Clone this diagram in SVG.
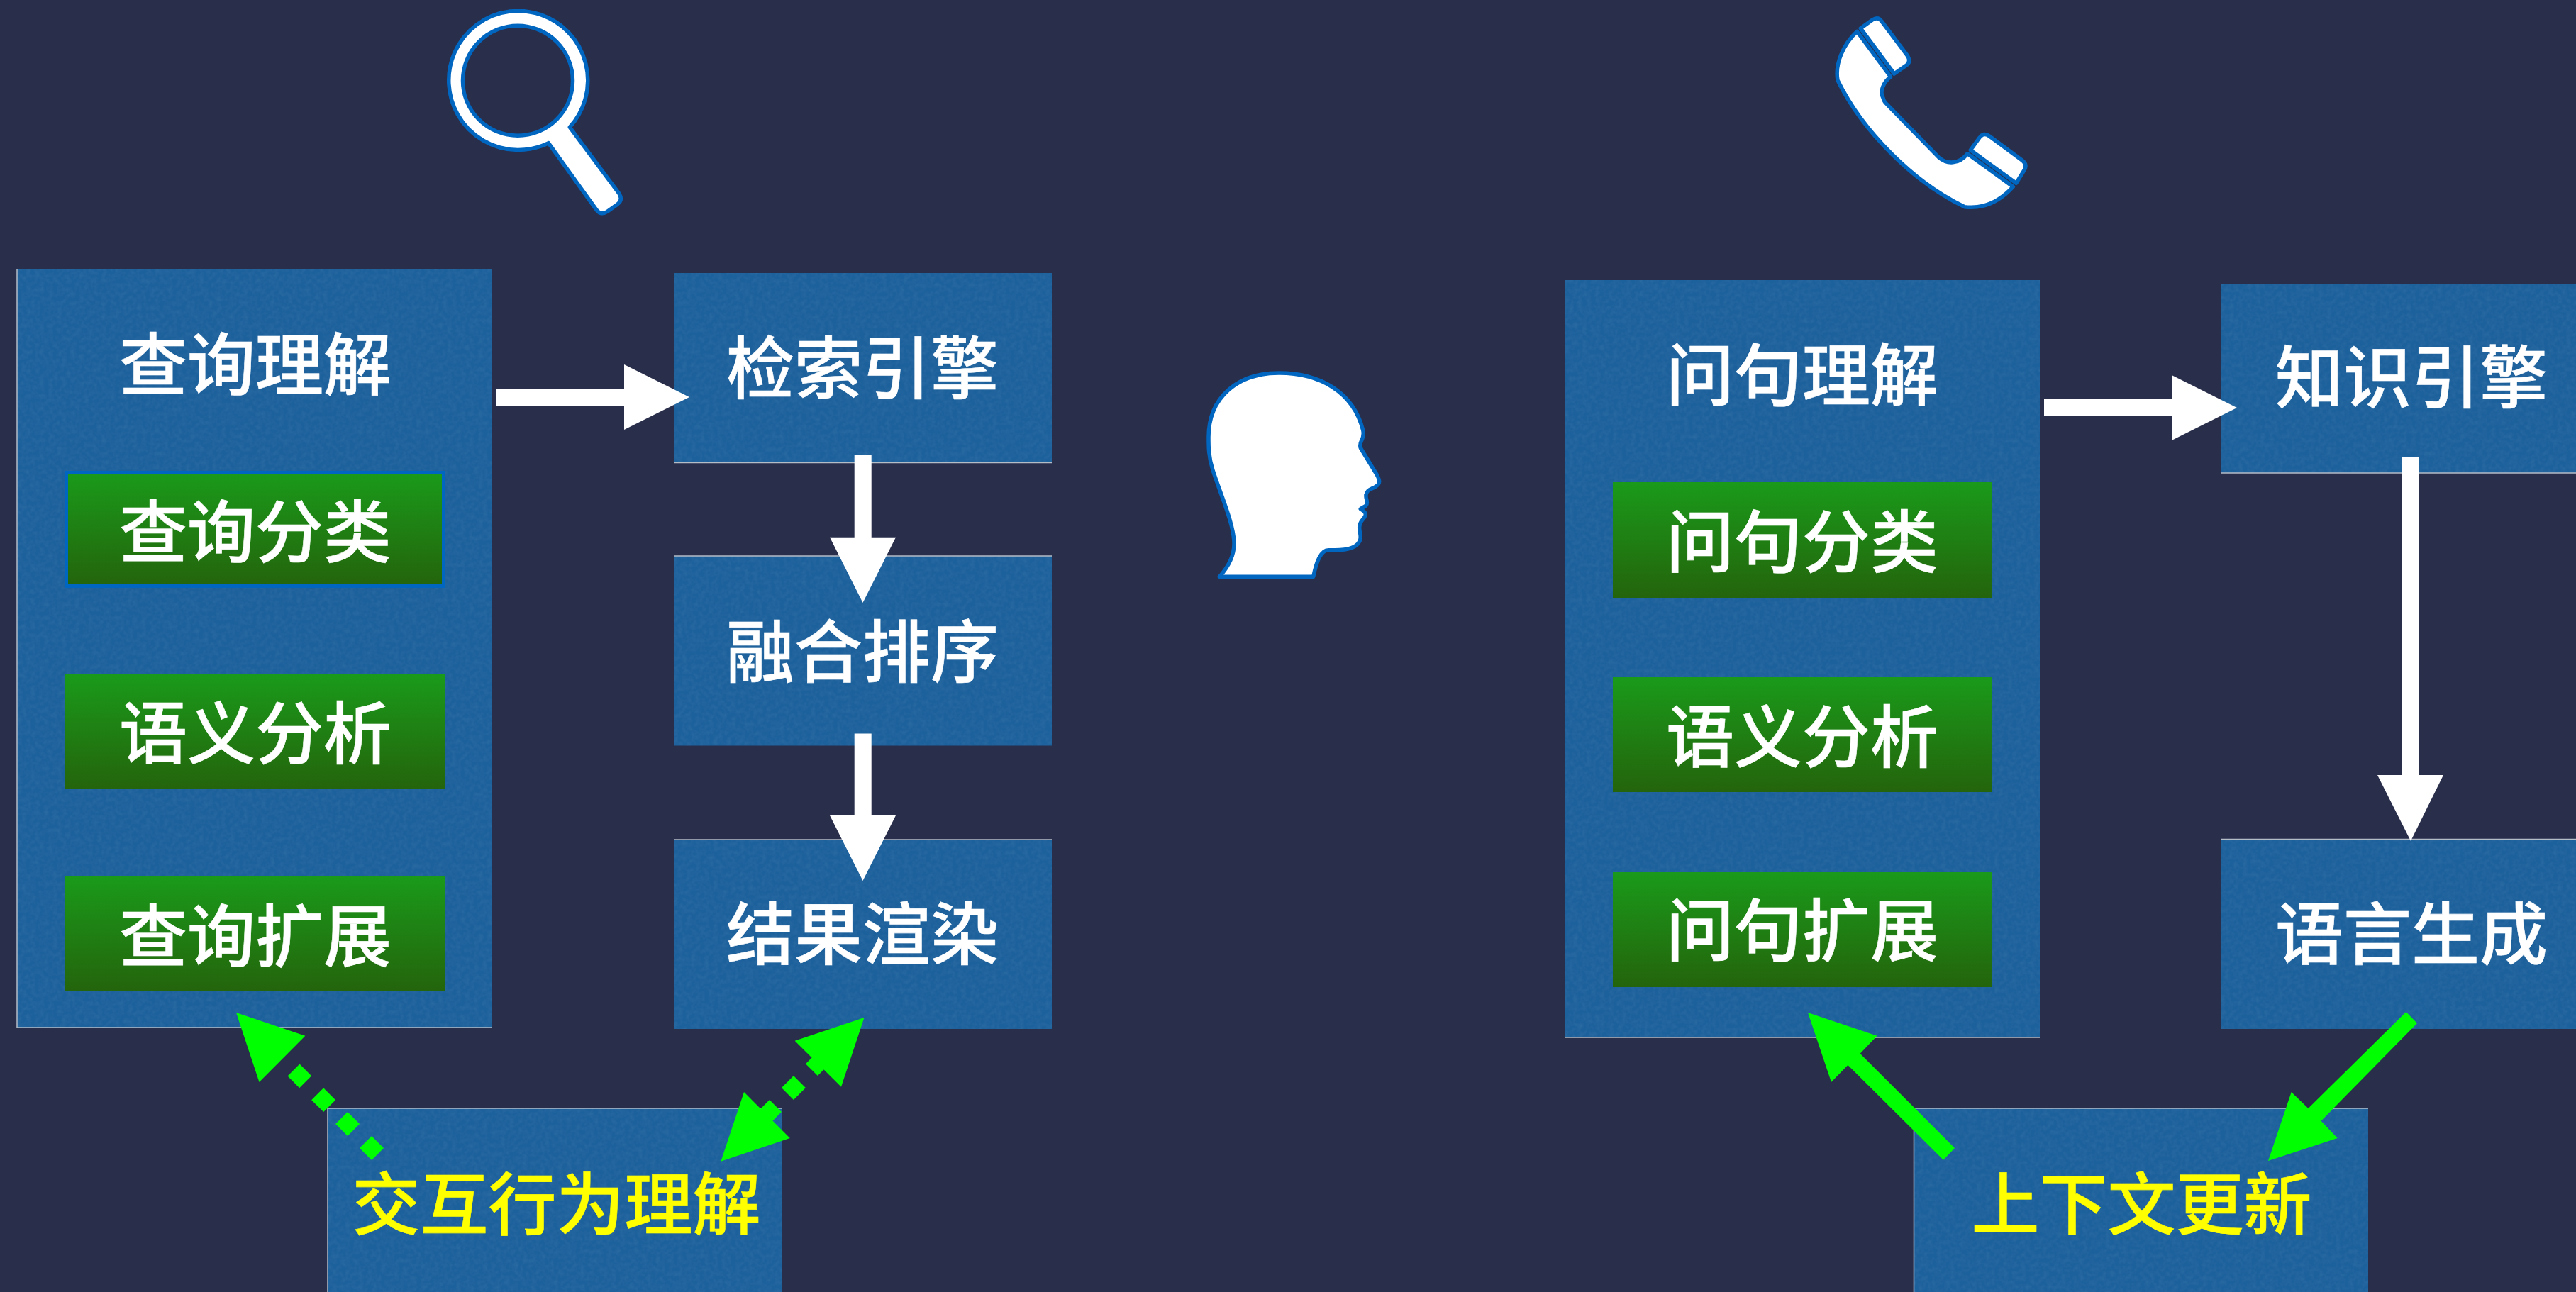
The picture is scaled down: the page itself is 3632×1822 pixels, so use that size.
<svg xmlns="http://www.w3.org/2000/svg" width="3632" height="1822" viewBox="0 0 3632 1822">
<style>
.box{fill:#1d619c;filter:url(#grain)}
.grn{fill:url(#g)}
.edge{fill:none;stroke:#b4bcc6;stroke-width:1.5}
text{font-family:"Noto Sans CJK SC","Noto Sans",sans-serif;font-size:96px;font-weight:500;text-anchor:middle;fill:#fff;stroke:#fff;stroke-width:0.600}
.y{fill:#ff0;stroke:#ff0}
.icon{fill:#fff;stroke:#0066c0;stroke-width:5.500;stroke-linejoin:round;fill-rule:evenodd}
.wa{fill:#fff}
.ga{fill:#0f0}
.dots{fill:none;stroke:#0f0;stroke-width:24;stroke-dasharray:24 24}
</style>
<defs>
<linearGradient id="g" x1="0" y1="0" x2="0" y2="1"><stop offset="0" stop-color="#1a9a1a"/><stop offset="1" stop-color="#24640c"/></linearGradient>
<filter id="grain" x="0" y="0" width="1" height="1" color-interpolation-filters="sRGB">
<feTurbulence type="fractalNoise" baseFrequency="0.16" numOctaves="2" seed="4" result="n"/>
<feColorMatrix in="n" type="matrix" values="0 0 0 0 1 0 0 0 0 1 0 0 0 0 1 0.10 0 0 0 -0.035" result="w"/>
<feComposite in="w" in2="SourceGraphic" operator="in" result="c"/>
<feMerge><feMergeNode in="SourceGraphic"/><feMergeNode in="c"/></feMerge>
</filter>
</defs>
<rect width="3632" height="1822" fill="#292e4b"/>

<g id="icon-search"><path class="icon" d="M803.3 179.3L872.7 272.7Q879 282 870 288.5L856 298.5Q847 304 841 296L773.3 201.7A98 98 0 1 1 803.3 179.3ZM652.5 113.7A77.5 77.5 0 1 0 807.5 113.7A77.5 77.5 0 1 0 652.5 113.7Z"/></g>
<g id="icon-phone">
<path class="icon" d="M2618.3 44.3L2665.7 108.3C2655 116 2650 130 2655 138C2656 143 2658 145 2661.7 148.3L2733.3 221.7C2745 232 2762 232 2774 216.7L2838.3 263.3C2820 283.3 2796.7 295 2770 291.7C2700 258.3 2626.7 186.7 2591 113.3C2586.7 88.3 2600 61.7 2618.3 44.3Z"/>
<path class="icon" d="M2623.3 40L2640 28Q2648 23 2653 30L2689 78Q2695 87 2688 92L2670.7 104Z"/>
<path class="icon" d="M2778.3 211.7L2791 194Q2797 186 2805 192L2851 226Q2859 232 2854 240L2842.7 258.3Z"/>
</g>
<g id="icon-head"><path class="icon" d="M1719.3 813.3C1733 798 1740 782 1740 766.7C1740 740 1722 700 1710 663C1704 645 1704 630 1704 616.7C1704 560 1745 526 1803.3 526C1860 526 1908 552 1921.7 606.7C1925 620 1915 622 1918.3 631.7L1941 669C1946 678 1946 682 1940 686C1934 690 1927 690 1926 698C1925 704 1930 708 1926 713C1924 715 1920 716 1918.3 717.7C1921 720 1927 722 1925 727C1923 733 1916 735 1916.7 745C1917 752 1920 757 1917 763C1912 774 1896 776 1880 775.7L1873 775.7C1862 776 1856 792 1851.7 813.3Z"/></g>

<g id="query-understanding">
<rect class="box" x="24" y="380" width="670" height="1069"/>
<path class="edge" d="M24 380V1449H694"/>
<text x="360" y="549">查询理解</text>
</g>
<g id="query-classify">
<rect class="grn" x="93.500" y="666.500" width="532" height="160" stroke="#0066c0" stroke-width="5"/>
<text x="360" y="785">查询分类</text>
</g>
<g id="semantic-left">
<rect class="grn" x="92" y="951" width="535" height="162"/>
<text x="360" y="1069">语义分析</text>
</g>
<g id="query-expand">
<rect class="grn" x="92" y="1236" width="535" height="162"/>
<text x="360" y="1355">查询扩展</text>
</g>
<g id="search-engine">
<rect class="box" x="950" y="385" width="533" height="267"/>
<path class="edge" d="M950 652.500H1483"/>
<text x="1216" y="554">检索引擎</text>
</g>
<g id="fusion-rank">
<rect class="box" x="950" y="784" width="533" height="267.500"/>
<path class="edge" d="M950 784H1483"/>
<text x="1216" y="954">融合排序</text>
</g>
<g id="result-render">
<rect class="box" x="950" y="1184" width="533" height="267"/>
<path class="edge" d="M950 1184H1483"/>
<text x="1216" y="1352">结果渲染</text>
</g>
<g id="interaction">
<rect class="box" x="462" y="1563" width="641" height="259"/>
<path class="edge" d="M462 1822V1563H1103"/>
<text class="y" x="784.500" y="1733">交互行为理解</text>
</g>

<g id="question-understanding">
<rect class="box" x="2207" y="395" width="669" height="1068"/>
<path class="edge" d="M2207 1463H2876"/>
<text x="2541" y="564">问句理解</text>
</g>
<g id="question-classify">
<rect class="grn" x="2274" y="680" width="534" height="163"/>
<text x="2541" y="799">问句分类</text>
</g>
<g id="semantic-right">
<rect class="grn" x="2274" y="955" width="534" height="162"/>
<text x="2541" y="1074">语义分析</text>
</g>
<g id="question-expand">
<rect class="grn" x="2274" y="1230" width="534" height="162"/>
<text x="2541" y="1347">问句扩展</text>
</g>
<g id="knowledge-engine">
<rect class="box" x="3132" y="400" width="500" height="267"/>
<path class="edge" d="M3132 667H3632"/>
<text x="3400" y="567">知识引擎</text>
</g>
<g id="language-gen">
<rect class="box" x="3132" y="1183" width="500" height="268"/>
<path class="edge" d="M3132 1183.500H3632"/>
<text x="3400" y="1352">语言生成</text>
</g>
<g id="context-update">
<rect class="box" x="2698.500" y="1563" width="640.500" height="259"/>
<path class="edge" d="M2698.500 1822V1563H3339"/>
<text class="y" x="3019.500" y="1733">上下文更新</text>
</g>

<g id="connectors">
<polygon class="wa" points="700,548 880,548 880,514 972,560 880,606 880,572 700,572"/>
<polygon class="wa" points="1204.700,642 1228.700,642 1228.700,757.700 1263,757.700 1216.500,850 1170,757.700 1204.700,757.700"/>
<polygon class="wa" points="1204.700,1034.500 1228.700,1034.500 1228.700,1150 1263,1150 1216.500,1242 1170,1150 1204.700,1150"/>
<polygon class="wa" points="2882,563 3062,563 3062,529 3154,575 3062,621 3062,587 2882,587"/>
<polygon class="wa" points="3387,644 3411,644 3411,1093 3445,1093 3399,1186 3352,1093 3387,1093"/>
<line class="dots" x1="532.500" y1="1627.500" x2="414" y2="1509"/>
<polygon class="ga" points="333,1428 430.400,1460.700 365.500,1526"/>
<line class="dots" x1="1076.500" y1="1576.500" x2="1161.400" y2="1491.600"/>
<polygon class="ga" points="1218.500,1435 1120.600,1467.700 1186,1532.700"/>
<polygon class="ga" points="1016.400,1637.700 1049,1540 1113.800,1605"/>
<polygon class="ga" points="2549,1428 2646.600,1460.700 2622.700,1485.700 2756,1619 2740,1635.700 2605.400,1502 2582,1526"/>
<polygon class="ga" points="3392.400,1427 3408,1443 3272.600,1580.700 3295.700,1605 3198,1637 3230.700,1540 3254.500,1563"/>
</g>
</svg>
